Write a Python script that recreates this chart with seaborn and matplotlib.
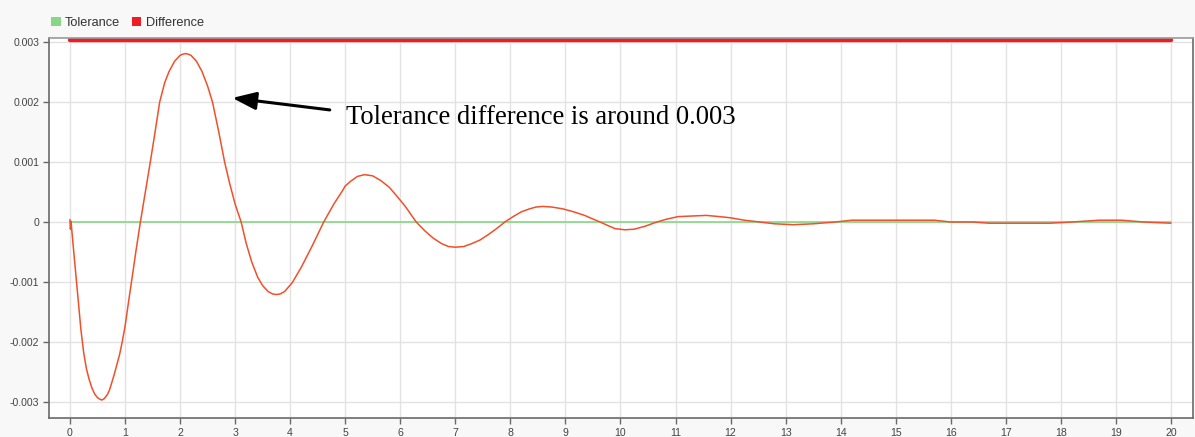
import numpy as np
import pandas as pd
import matplotlib
matplotlib.use("Agg")
import matplotlib.pyplot as plt
from matplotlib.patches import Patch
import seaborn as sns

# ---- data ----
time = [0.00, 0.01, 0.02, 0.05, 0.10, 0.15, 0.20, 0.25, 0.30, 0.35, 0.40, 0.45, 0.50,
        0.55, 0.58, 0.62, 0.68, 0.72, 0.80, 0.90, 0.95, 1.00, 1.07, 1.15, 1.20, 1.28,
        1.37, 1.46, 1.55, 1.63, 1.72, 1.80, 1.90, 2.00, 2.05, 2.10, 2.15, 2.20, 2.30,
        2.40, 2.50, 2.59, 2.70, 2.81, 2.90, 3.00, 3.11, 3.20, 3.30, 3.41, 3.50, 3.60,
        3.68, 3.75, 3.82, 3.90, 4.04, 4.20, 4.40, 4.61, 4.80, 4.95, 5.00, 5.10, 5.22,
        5.35, 5.50, 5.65, 5.80, 5.95, 6.10, 6.29, 6.45, 6.60, 6.75, 6.88, 7.00, 7.15,
        7.30, 7.45, 7.60, 7.75, 7.90, 8.05, 8.20, 8.35, 8.47, 8.59, 8.75, 8.95, 9.15,
        9.35, 9.50, 9.63, 9.75, 9.90, 10.08, 10.25, 10.45, 10.66, 10.85, 11.05, 11.30,
        11.56, 11.80, 12.00, 12.25, 12.53, 12.80, 13.14, 13.50, 13.90, 14.20, 15.00,
        15.70, 16.00, 16.40, 16.70, 17.30, 17.80, 18.20, 18.70, 19.10, 19.50, 20.00]
difference = [0.00004, -0.00012, 0.00001, -0.00030, -0.00080, -0.00130, -0.00180, -0.00218,
              -0.00245, -0.00263, -0.00277, -0.00287, -0.00293, -0.00296, -0.00297, -0.00295,
              -0.00288, -0.00280, -0.00256, -0.00222, -0.00200, -0.00175, -0.00130, -0.00080,
              -0.00048, 0.00000, 0.00050, 0.00100, 0.00152, 0.00200, 0.00232, 0.00251, 0.00268,
              0.00278, 0.00280, 0.00281, 0.00280, 0.00278, 0.00268, 0.00251, 0.00227, 0.00200,
              0.00152, 0.00100, 0.00065, 0.00030, 0.00000, -0.00035, -0.00066, -0.00092,
              -0.00106, -0.00116, -0.00120, -0.00121, -0.00120, -0.00116, -0.00101, -0.00076,
              -0.00040, 0.00000, 0.00031, 0.00052, 0.00060, 0.00068, 0.00076, 0.00079, 0.00077,
              0.00069, 0.00058, 0.00042, 0.00025, 0.00000, -0.00015, -0.00027, -0.00036,
              -0.00041, -0.00042, -0.00041, -0.00036, -0.00030, -0.00021, -0.00011, 0.00000,
              0.00009, 0.00017, 0.00022, 0.00025, 0.00026, 0.00025, 0.00022, 0.00017, 0.00011,
              0.00005, 0.00000, -0.00005, -0.00011, -0.00013, -0.00012, -0.00007, 0.00000,
              0.00005, 0.00009, 0.00010, 0.00011, 0.00009, 0.00007, 0.00003, 0.00000, -0.00003,
              -0.000045, -0.00003, 0.00000, 0.00003, 0.00003, 0.00003, 0.00000, 0.00000,
              -0.00002, -0.00002, -0.00002, 0.00000, 0.00003, 0.00003, 0.00000, -0.00002]

tol_time = [0, 20]
tolerance = [0.0, 0.0]
band_time = [0, 20]
band_level = [0.00304, 0.00304]

x_ticks = list(range(0, 21))
y_ticks = [-0.003, -0.002, -0.001, 0.0, 0.001, 0.002, 0.003]
y_tick_labels = ["-0.003", "-0.002", "-0.001", "0", "0.001", "0.002", "0.003"]
legend_labels = ["Tolerance", "Difference"]
annotation_text = "Tolerance difference is around 0.003"

# ---- styling ----
sns.set_theme(style="whitegrid")
plt.rcParams["font.family"] = ["Liberation Sans", "DejaVu Sans"]

W, H = 1195, 437
fig = plt.figure(figsize=(W / 100, H / 100), dpi=100, facecolor="#f8f8f8")
ax = fig.add_axes([49 / W, 1 - 418 / H, (1193 - 49) / W, (418 - 38) / H])
ax.set_facecolor("white")

green = "#86d886"
curve_red = "#f0502a"
band_red = "#ee1d23"

df_diff = pd.DataFrame({"time": time, "value": difference})
df_tol = pd.DataFrame({"time": tol_time, "value": tolerance})
df_band = pd.DataFrame({"time": band_time, "value": band_level})

sns.lineplot(data=df_tol, x="time", y="value", color=green, linewidth=1.2, ax=ax)
sns.lineplot(data=df_band, x="time", y="value", color=band_red, linewidth=3.2, ax=ax)
sns.lineplot(data=df_diff, x="time", y="value", color=curve_red, linewidth=1.1, ax=ax)

ax.set_xlim(-0.38, 20.4)
ax.set_ylim(-0.00327, 0.00307)
ax.set_xticks(x_ticks)
ax.set_xticklabels([str(t) for t in x_ticks])
ax.set_yticks(y_ticks)
ax.set_yticklabels(y_tick_labels)
ax.set_xlabel("")
ax.set_ylabel("")

ax.grid(True, color="#e2e2e2", linewidth=1.0)
for s in ax.spines.values():
    s.set_visible(True)
    s.set_color("#6a6a6a")
    s.set_linewidth(1.2)
ax.spines["top"].set_color("#9a9a9a")
ax.tick_params(axis="both", which="major", length=4, width=1, color="#6a6a6a",
               labelsize=7.6, labelcolor="#444444", pad=3, direction="out",
               left=True, bottom=True)

# annotation: text and arrow
ax.text(5.01, 0.00175, annotation_text, fontsize=19.2,
        family=["Liberation Serif", "DejaVu Serif"], color="black",
        va="center", ha="left")
ax.annotate("", xy=(2.95, 0.00207), xytext=(4.72, 0.00187),
            arrowprops=dict(arrowstyle="-|>,head_length=1.2,head_width=0.45",
                            color="black", lw=2.2, shrinkA=0, shrinkB=0))

# legend
handles = [Patch(facecolor=green, edgecolor="none"), Patch(facecolor=band_red, edgecolor="none")]
fig.legend(handles, legend_labels, loc="center left", bbox_to_anchor=(51 / W, 1 - 23 / H),
           ncol=2, frameon=False, fontsize=9.2, handlelength=0.75, handleheight=0.75,
           handletextpad=0.35, columnspacing=0.9, borderaxespad=0, borderpad=0,
           labelcolor="#333333")

fig.savefig("out.png", dpi=100, facecolor=fig.get_facecolor())
